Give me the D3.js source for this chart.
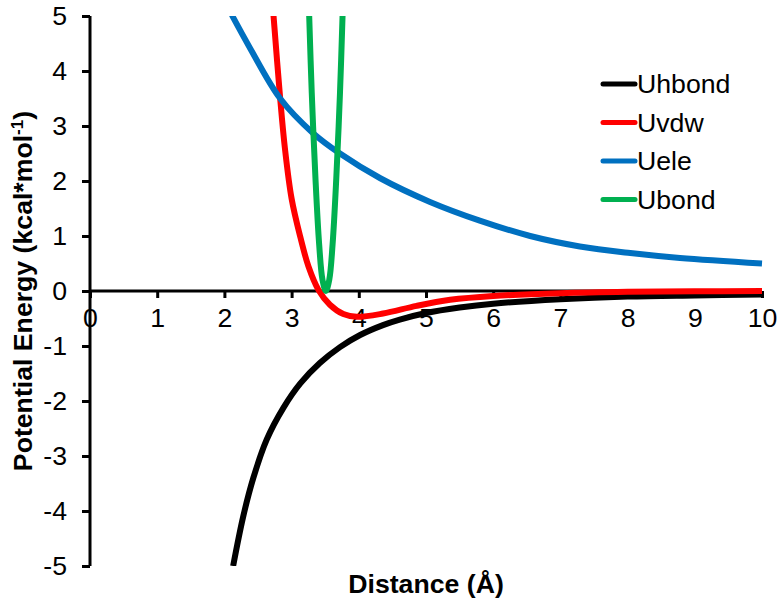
<!DOCTYPE html>
<html>
<head>
<meta charset="utf-8">
<script src="https://cdn.jsdelivr.net/npm/d3@7"></script>
<style>
  body { margin: 0; background: #fff; }
  svg { display: block; font-family: "Liberation Sans", Arial, sans-serif; }
</style>
</head>
<body>
<div id="chart"></div>
<script>
// values (distance in Å, energy in kcal/mol)
const hbondX = [2.13, 2.28, 2.43, 2.63, 2.88, 3.13, 3.42, 3.72, 4.02, 4.36, 4.61, 5.0, 5.5, 6.0, 7.0, 8.0, 9.0, 10.0];
const hbondY = [-5.0, -4.1, -3.4, -2.7, -2.12, -1.68, -1.31, -1.02, -0.8, -0.62, -0.52, -0.4, -0.3, -0.23, -0.15, -0.1, -0.08, -0.065];

const vdwX = [2.73, 2.83, 2.9, 3.0, 3.13, 3.25, 3.4, 3.57, 3.77, 3.97, 4.36, 4.86, 5.36, 6.0, 7.0, 8.0, 9.0, 10.0];
const vdwY = [5.02, 3.5, 2.6, 1.68, 0.98, 0.45, 0.02, -0.25, -0.42, -0.47, -0.41, -0.27, -0.16, -0.09, -0.04, -0.015, -0.005, 0.0];

const eleX = [2.11, 2.38, 2.83, 3.32, 3.72, 4.32, 5.06, 5.8, 6.55, 7.29, 8.04, 8.78, 10.0];
const eleY = [5.02, 4.42, 3.5, 2.87, 2.5, 2.05, 1.62, 1.28, 1.0, 0.81, 0.69, 0.6, 0.5];

const bondX = [3.26, 3.3, 3.355, 3.41, 3.46, 3.51, 3.56, 3.61, 3.665, 3.72, 3.76];
const bondY = [5.07, 3.6, 2.05, 0.85, 0.2, 0.0, 0.2, 0.85, 2.05, 3.6, 5.07];

const seriesNames = ["Uhbond", "Uvdw", "Uele", "Ubond"];
const seriesColors = ["#000000", "#ff0000", "#0070c0", "#00b050"];
const xTicks = [0, 1, 2, 3, 4, 5, 6, 7, 8, 9, 10];
const yTicks = [5, 4, 3, 2, 1, 0, -1, -2, -3, -4, -5];

const series = [
  [hbondX, hbondY],
  [vdwX, vdwY],
  [eleX, eleY],
  [bondX, bondY],
].map(([xs, ys], i) => ({
  name: seriesNames[i],
  color: seriesColors[i],
  values: xs.map((x, j) => ({ x: x, y: ys[j] })),
}));

const width = 778;
const height = 601;
const plot = { left: 90, right: 762, top: 16, bottom: 566 };
const fontSize = 26.67;

const x = d3.scaleLinear().domain([0, 10]).range([plot.left, plot.right]);
const y = d3.scaleLinear().domain([-5, 5]).range([plot.bottom, plot.top]);

const svg = d3
  .select("#chart")
  .append("svg")
  .attr("width", width)
  .attr("height", height);

svg.append("defs")
  .append("clipPath")
  .attr("id", "plot-clip")
  .append("rect")
  .attr("x", 0)
  .attr("y", plot.top)
  .attr("width", width)
  .attr("height", plot.bottom - plot.top);

// y axis on the left edge of the plot
const yAxis = svg
  .append("g")
  .attr("transform", `translate(${plot.left},0)`)
  .call(d3.axisLeft(y).tickValues(yTicks).tickSize(8).tickPadding(15).tickFormat(d3.format("d")));

// x axis crosses at y = 0
const xAxis = svg
  .append("g")
  .attr("transform", `translate(0,${y(0)})`)
  .call(d3.axisBottom(x).tickValues(xTicks).tickSize(7).tickPadding(10).tickFormat(d3.format("d")));

[xAxis, yAxis].forEach((ax) => {
  ax.select(".domain").attr("stroke", "#000").attr("stroke-width", 3);
  ax.selectAll(".tick line").attr("stroke", "#000").attr("stroke-width", 3);
  ax.selectAll(".tick text")
    .attr("fill", "#000")
    .style("font-size", fontSize + "px")
    .style("font-family", "'Liberation Sans', Arial, sans-serif");
});
// plain hyphen for negatives, like the original
yAxis.selectAll(".tick text").text((d) => String(d));
xAxis.select(".domain").attr("d", `M${plot.left},0H${plot.right}`);
yAxis.select(".domain").attr("d", `M0,${plot.top}V${plot.bottom}`);

// curves
const line = d3
  .line()
  .x((d) => x(d.x))
  .y((d) => y(d.y))
  .curve(d3.curveCatmullRom.alpha(0.5));

svg.append("g")
  .attr("clip-path", "url(#plot-clip)")
  .selectAll("path")
  .data(series)
  .join("path")
  .attr("d", (d) => line(d.values))
  .attr("fill", "none")
  .attr("stroke", (d) => d.color)
  .attr("stroke-width", 6)
  .attr("stroke-linejoin", "round");

// axis titles
svg.append("text")
  .attr("x", (plot.left + plot.right) / 2)
  .attr("y", 593)
  .attr("text-anchor", "middle")
  .style("font-size", fontSize + "px")
  .style("font-weight", "bold")
  .text("Distance (Å)");

const yTitle = svg.append("text")
  .attr("transform", `translate(32,${(plot.top + plot.bottom) / 2}) rotate(-90)`)
  .attr("text-anchor", "middle")
  .style("font-size", fontSize + "px")
  .style("font-weight", "bold");
yTitle.append("tspan").text("Potential Energy (kcal*mol");
yTitle.append("tspan").attr("dy", -9).style("font-size", "17px").text("-1");
yTitle.append("tspan").attr("dy", 9).text(")");

// legend
const legend = svg
  .append("g")
  .selectAll("g")
  .data(series)
  .join("g")
  .attr("transform", (d, i) => `translate(603,${84 + i * 38.5})`);

legend.append("line")
  .attr("x1", 0)
  .attr("x2", 32)
  .attr("stroke", (d) => d.color)
  .attr("stroke-width", 5)
  .attr("stroke-linecap", "round");

legend.append("text")
  .attr("x", 34)
  .attr("y", 9)
  .style("font-size", fontSize + "px")
  .text((d) => d.name);
</script>
</body>
</html>
